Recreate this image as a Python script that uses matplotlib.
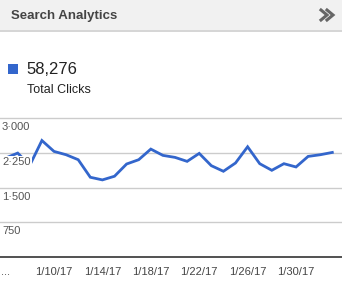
import matplotlib
matplotlib.use("Agg")
import matplotlib.pyplot as plt
from matplotlib.patches import Rectangle

plt.rcParams['font.family'] = ['Liberation Sans', 'DejaVu Sans']

# daily clicks 1/6/17 .. 2/2/17
days = list(range(28))
clicks = [2136, 2243, 1980, 2514, 2279, 2207, 2100, 1721, 1664, 1743,
          2007, 2100, 2329, 2193, 2150, 2064, 2236, 1971, 1850, 2029,
          2379, 2014, 1871, 2014, 1943, 2171, 2207, 2257]
tick_days = [0, 4, 8, 12, 16, 20, 24]
tick_labels = ["...", "1/10/17", "1/14/17", "1/18/17", "1/22/17", "1/26/17", "1/30/17"]
y_ticks = [750, 1500, 2250, 3000]
y_labels = ["750", "1\u00b7500", "2\u00b7250", "3\u00b7000"]
total = "58,276"
blue = '#3366cc'

W, H = 342, 283
fig = plt.figure(figsize=(W/100, H/100), dpi=100)
fig.patch.set_facecolor('white')

def fx(px):
    return px / W

def fy(py):
    return 1 - py / H

# header band
fig.patches.append(Rectangle((0, fy(31)), 1, 31/H, transform=fig.transFigure,
                             facecolor='#f1f1f1', edgecolor='none'))
fig.patches.append(Rectangle((0, fy(31.5)), 1, 1.2/H, transform=fig.transFigure,
                             facecolor='#d6d6d6', edgecolor='none'))
fig.text(fx(11), fy(15.5), "Search Analytics", fontsize=9.5, fontweight='bold',
         color='#444444', va='center', ha='left')
# double chevron
for dx in (0, 6):
    fig.add_artist(plt.Line2D([fx(321+dx), fx(327+dx), fx(321+dx)],
                              [fy(10), fy(15), fy(20)], color='#666666', lw=2.2,
                              solid_joinstyle='miter', transform=fig.transFigure))

# total block
fig.patches.append(Rectangle((fx(8), fy(74)), 10/W, 10/H, transform=fig.transFigure,
                             facecolor=blue, edgecolor='none'))
fig.text(fx(26), fy(69), total, fontsize=12, color='#222222', va='center', ha='left')
fig.text(fx(27), fy(90), "Total Clicks", fontsize=9, color='#222222', va='center', ha='left')

# chart
ax = fig.add_axes([0, fy(257), 1, (257-118)/H])
ax.plot(days, clicks, color=blue, lw=2, zorder=3, solid_joinstyle='miter')
ax.set_xlim(-0.463, 27.8)
ax.set_ylim(0, 3000)
for s in ax.spines.values():
    s.set_visible(False)
for v in y_ticks:
    ax.axhline(v, color='#cccccc', lw=1, zorder=1, clip_on=False)
ax.axhline(0, color='#333333', lw=1.2, zorder=4, clip_on=False)
ax.set_yticks([])
ax.set_xticks(tick_days)
ax.set_xticklabels(tick_labels, fontsize=8, color='#444444')
ax.tick_params(axis='x', length=0, pad=7)
ax.set_facecolor('none')

for v, lab in zip(y_ticks, y_labels):
    ax.annotate(lab, xy=(0, v), xycoords=('axes fraction', 'data'),
                xytext=(2, -4), textcoords='offset pixels', fontsize=8,
                color='#555555', ha='left', va='top', zorder=5,
                bbox=dict(boxstyle='square,pad=0.1', facecolor='white', edgecolor='none'))

fig.savefig("out.png", dpi=100)
